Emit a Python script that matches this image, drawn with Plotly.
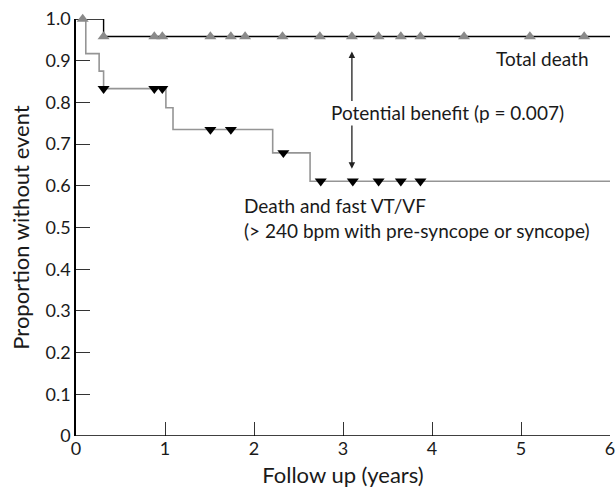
import plotly.graph_objects as go

# Kaplan-Meier step curves (time in years, proportion without event)
total_death_t = [0.0, 0.31, 0.31, 6.07]
total_death_s = [1.0, 1.0, 0.958, 0.958]

fast_vt_t = [0.0, 0.11, 0.11, 0.26, 0.26, 0.31, 0.31, 1.01, 1.01, 1.09, 1.09, 2.21, 2.21, 2.63, 2.63, 6.07]
fast_vt_s = [1.0, 1.0, 0.917, 0.917, 0.875, 0.875, 0.833, 0.833, 0.787, 0.787, 0.735, 0.735, 0.679, 0.679, 0.611, 0.611]

# censored observations
total_cens_t = [0.075, 0.31, 0.88, 0.97, 1.51, 1.74, 1.90, 2.32, 2.74, 3.10, 3.40, 3.65, 3.87, 4.36, 5.10, 5.71]
total_cens_s = [1.0] + [0.958] * 15

fast_cens_t = [0.31, 0.88, 0.97, 1.51, 1.74, 2.33, 2.75, 3.11, 3.40, 3.65, 3.87]
fast_cens_s = [0.833, 0.833, 0.833, 0.735, 0.735, 0.679, 0.611, 0.611, 0.611, 0.611, 0.611]

x_ticks = [0, 1, 2, 3, 4, 5, 6]
y_ticks = [0, 0.1, 0.2, 0.3, 0.4, 0.5, 0.6, 0.7, 0.8, 0.9, 1.0]
y_ticktext = ["0", "0.1", "0.2", "0.3", "0.4", "0.5", "0.6", "0.7", "0.8", "0.9", "1.0"]

FONT = "Lato"
GRAY_LINE = "#959595"
GRAY_MARK = "#8a8a8a"

fig = go.Figure()
fig.add_trace(go.Scatter(x=fast_vt_t, y=fast_vt_s, mode="lines",
                         line=dict(color=GRAY_LINE, width=1.6), cliponaxis=False,
                         hoverinfo="skip", showlegend=False))
fig.add_trace(go.Scatter(x=total_death_t, y=total_death_s, mode="lines",
                         line=dict(color="#000000", width=1.4), cliponaxis=False,
                         hoverinfo="skip", showlegend=False))
fig.add_trace(go.Scatter(x=total_cens_t, y=total_cens_s, mode="markers",
                         marker=dict(symbol="triangle-up", size=10.5, color=GRAY_MARK),
                         cliponaxis=False, showlegend=False))
fig.add_trace(go.Scatter(x=fast_cens_t, y=fast_cens_s, mode="markers",
                         marker=dict(symbol="triangle-down", size=10.5, color="#000000"),
                         cliponaxis=False, showlegend=False))

# x axis line drawn only up to 6
fig.add_shape(type="line", xref="x", yref="y", x0=0, x1=6, y0=0, y1=0,
              line=dict(color="#000000", width=1.5))

# Potential benefit arrows
arrow_x = 3.10
fig.add_annotation(x=arrow_x, y=0.922, ax=arrow_x, ay=0.80, xref="x", yref="y",
                   axref="x", ayref="y", text="", showarrow=True,
                   arrowhead=2, arrowsize=1.0, arrowwidth=1.3, arrowcolor="#222222")
fig.add_annotation(x=arrow_x, y=0.641, ax=arrow_x, ay=0.748, xref="x", yref="y",
                   axref="x", ayref="y", text="", showarrow=True,
                   arrowhead=2, arrowsize=1.0, arrowwidth=1.3, arrowcolor="#222222")

txt_font = dict(family=FONT, size=19, color="#1a1a1a")
fig.add_annotation(x=5.79, y=0.905, xref="x", yref="y", text="Total death",
                   showarrow=False, xanchor="right", yanchor="middle", font=txt_font)
fig.add_annotation(x=2.84, y=0.775, xref="x", yref="y", text="Potential benefit (p = 0.007)",
                   showarrow=False, xanchor="left", yanchor="middle", font=txt_font)
fig.add_annotation(x=1.87, y=0.523, xref="x", yref="y",
                   text="Death and fast VT/VF<br>(> 240 bpm with pre-syncope or syncope)",
                   showarrow=False, xanchor="left", yanchor="middle", align="left",
                   font=txt_font)

fig.update_layout(
    width=616, height=488,
    margin=dict(l=76, r=6, t=19, b=52),
    paper_bgcolor="white", plot_bgcolor="white",
    font=dict(family=FONT, size=18, color="#1a1a1a"),
    xaxis=dict(range=[0, 6], tickvals=x_ticks, ticks="inside", ticklen=14,
               tickwidth=1.3, tickcolor="#333333", showline=False, showgrid=False,
               zeroline=False, automargin=False,
               title=dict(text="Follow up (years)", standoff=10),
               tickfont=dict(size=18)),
    yaxis=dict(range=[0, 1], tickvals=y_ticks, ticktext=y_ticktext, ticks="inside",
               ticklen=14, tickwidth=1.3, tickcolor="#333333", showline=True,
               linecolor="#000000", linewidth=1.5, showgrid=False, zeroline=False,
               automargin=False,
               title=dict(text="Proportion without event", standoff=10),
               tickfont=dict(size=18)),
)

fig.write_html("out.html", config={"displayModeBar": False},
               post_script="document.body.style.margin='0px';document.body.style.overflow='hidden';")
